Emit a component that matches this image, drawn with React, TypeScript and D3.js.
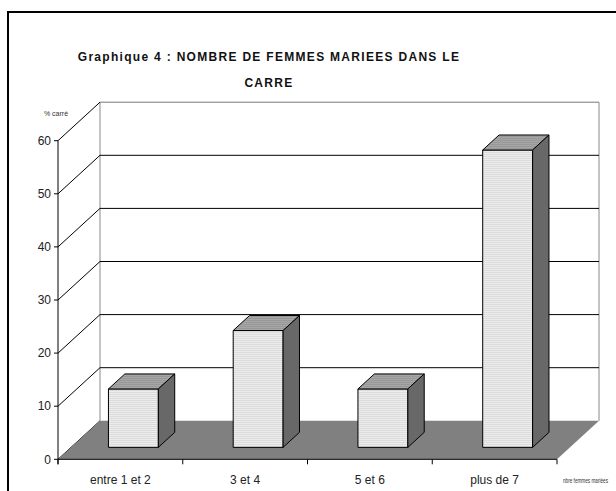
import React from 'react';
import * as d3 from 'd3';

const categories = ['entre 1 et 2', '3 et 4', '5 et 6', 'plus de 7'];
const values = [11, 22, 11, 56];
const yTicks = [0, 10, 20, 30, 40, 50, 60];

const W = 616;
const H = 491;
const FONT = 'Liberation Sans, Arial, sans-serif';

// 3D depth offset of the back wall
const DX = 42;
const DY = -38.5;
// bar position inside the depth
const F0 = 0.31;
const F1 = 0.7;

export default function App() {
  const x = d3.scaleBand<string>()
    .domain(categories)
    .range([58, 557])
    .paddingInner(0.6)
    .paddingOuter(0.3);

  const y = d3.scaleLinear().domain([0, 60]).range([459.3, 140.7]);

  const step = x.step();
  const bounds = d3.range(categories.length + 1).map(i => 58 + i * step);

  const floor = [
    [58, y(0)], [557, y(0)], [557 + DX, y(0) + DY], [58 + DX, y(0) + DY],
  ];

  const bars = categories.map((c, i) => {
    const x0 = (x(c) as number) + F0 * DX;
    const x1 = x0 + x.bandwidth();
    const yb = y(0) + F0 * DY;
    const yt = y(values[i]) + F0 * DY;
    const ddx = (F1 - F0) * DX;
    const ddy = (F1 - F0) * DY;
    return {
      front: [[x0, yt], [x1, yt], [x1, yb], [x0, yb]],
      top: [[x0, yt], [x0 + ddx, yt + ddy], [x1 + ddx, yt + ddy], [x1, yt]],
      side: [[x1, yt], [x1 + ddx, yt + ddy], [x1 + ddx, yb + ddy], [x1, yb]],
    };
  });

  const pts = (p: number[][]) => p.map(d => d.join(',')).join(' ');

  return (
    <svg width={W} height={H} style={{ position: 'absolute', left: 0, top: 0 }}>
      <defs>
        <pattern id="stripeLight" width="4" height="2" patternUnits="userSpaceOnUse">
          <rect width="4" height="2" fill="#ececec" />
          <rect width="4" height="1" fill="#dcdcdc" />
        </pattern>
        <pattern id="stripeTop" width="4" height="2" patternUnits="userSpaceOnUse">
          <rect width="4" height="2" fill="#a6a6a6" />
          <rect width="4" height="1" fill="#989898" />
        </pattern>
      </defs>
      <rect x={0} y={0} width={W} height={H} fill="#fff" />
      <rect x={8} y={12} width={620} height={500} fill="none" stroke="#000" strokeWidth={2} />

      <text x={269} y={61} textAnchor="middle" fontFamily={FONT} fontWeight="bold"
        fontSize={12} letterSpacing={1.3} fill="#111">
        Graphique 4 : NOMBRE DE FEMMES MARIEES DANS LE
      </text>
      <text x={269} y={87} textAnchor="middle" fontFamily={FONT} fontWeight="bold"
        fontSize={12} letterSpacing={1.3} fill="#111">
        CARRE
      </text>

      {/* back wall */}
      <line x1={58 + DX} x2={58 + DX} y1={y(60) + DY} y2={y(0) + DY} stroke="#888" />
      <line x1={557 + DX} x2={557 + DX} y1={y(60) + DY} y2={y(0) + DY} stroke="#888" />
      {yTicks.slice(1).map(t => (
        <line key={'g' + t} x1={58 + DX} x2={557 + DX} y1={y(t) + DY} y2={y(t) + DY}
          stroke={t === 60 ? '#777' : '#000'} />
      ))}
      {yTicks.map(t => (
        <line key={'d' + t} x1={58} y1={y(t)} x2={58 + DX} y2={y(t) + DY} stroke="#000" />
      ))}

      <polygon points={pts(floor)} fill="#808080" />

      {bars.map((b, i) => (
        <g key={i} stroke="#000" strokeWidth={1} strokeLinejoin="round">
          <polygon points={pts(b.front)} fill="url(#stripeLight)" />
          <polygon points={pts(b.top)} fill="url(#stripeTop)" />
          <polygon points={pts(b.side)} fill="#686868" />
        </g>
      ))}

      {/* front axes */}
      <line x1={58} x2={58} y1={y(60)} y2={y(0) + 5} stroke="#000" />
      {yTicks.map(t => (
        <g key={'t' + t}>
          <line x1={54} x2={58} y1={y(t)} y2={y(t)} stroke="#000" />
          <text x={51} y={y(t)} dy="0.35em" textAnchor="end" fontFamily={FONT} fontSize={12} fill="#222">{t}</text>
        </g>
      ))}
      <line x1={58} x2={557} y1={y(0)} y2={y(0)} stroke="#000" />
      {bounds.map((b, i) => (
        <line key={'xb' + i} x1={b} x2={b} y1={y(0)} y2={y(0) + 5} stroke="#000" />
      ))}
      {categories.map(c => (
        <text key={c} x={(x(c) as number) + x.bandwidth() / 2} y={484} textAnchor="middle"
          fontFamily={FONT} fontSize={12} fill="#222">{c}</text>
      ))}
      <text x={56} y={116} textAnchor="middle" fontFamily={FONT} fontSize={7} fill="#333">% carré</text>
      <text x={563} y={483} fontFamily={FONT} fontSize={6.5} textLength={45}
        lengthAdjust="spacingAndGlyphs" fill="#333">nbre femmes mariées</text>
    </svg>
  );
}
